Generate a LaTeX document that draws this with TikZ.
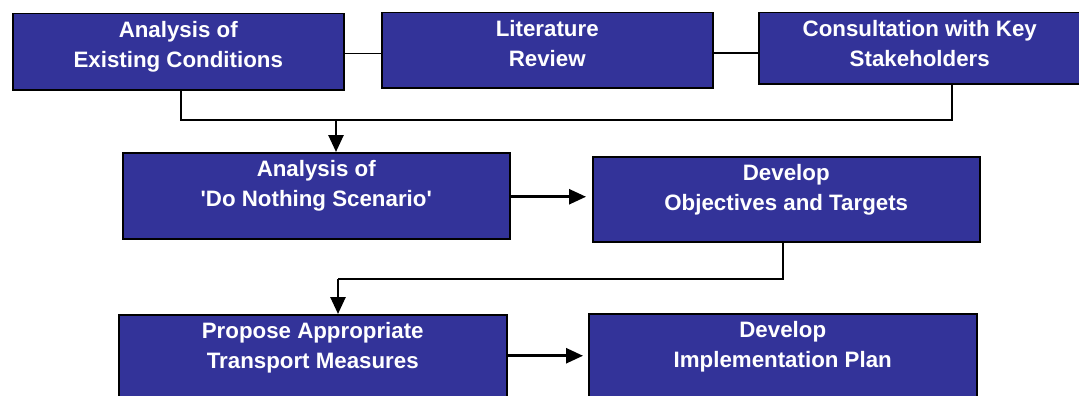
\documentclass[tikz,border=0pt]{standalone}
\usepackage{fontspec}
\newfontfamily\boxfont{Liberation Sans}
\usetikzlibrary{arrows.meta}
\definecolor{boxblue}{RGB}{51,51,153}
\begin{document}
\begin{tikzpicture}[x=1pt,y=-1pt,
  box/.style={draw=black, line width=1.5pt, fill=boxblue, inner sep=0pt, anchor=north west},
  boxtext/.style={anchor=north, yshift=-8.5pt, text=white, inner sep=0pt, align=center,
    font=\boxfont\bfseries\fontsize{22.3}{29.5}\selectfont},
  conn/.style={line width=1.5pt, draw=black},
  arr/.style={line width=2.6pt, draw=black, -{Triangle[length=17pt,width=15pt]}}]
\clip (0,0) rectangle (1079,396);
\useasboundingbox (0,0) rectangle (1079,396);
% boxes
\node[box, minimum width=331pt, minimum height=76pt,
  label={[boxtext]north:{Analysis of\\Existing Conditions}}] (b1) at (12,13) {};
\node[box, minimum width=331pt, minimum height=75pt,
  label={[boxtext]north:{Literature\\Review}}] (b2) at (381,12) {};
\node[box, minimum width=322pt, minimum height=71pt,
  label={[boxtext]north:{Consultation with Key\\Stakeholders}}] (b3) at (758,12) {};
\node[box, minimum width=387pt, minimum height=86pt,
  label={[boxtext]north:{Analysis of\\'Do Nothing Scenario'}}] (b4) at (122,152) {};
\node[box, minimum width=387pt, minimum height=85pt,
  label={[boxtext]north:{Develop\\Objectives and Targets}}] (b5) at (592,156) {};
\node[box, minimum width=388pt, minimum height=86pt,
  label={[boxtext]north:{Propose Appropriate\\Transport Measures}}] (b6) at (118,314) {};
\node[box, minimum width=388pt, minimum height=86pt,
  label={[boxtext]north:{Develop\\Implementation Plan}}] (b7) at (588,313) {};
% junction points
\coordinate (j1) at (336,120);
\coordinate (j2) at (338,279);
% connectors
\draw[conn] ([yshift=-2pt]b1.east) -- ([yshift=-2pt]b1.east -| b2.west);
\draw[conn] ([yshift=-3pt]b2.east) -- ([yshift=-3pt]b2.east -| b3.west);
\draw[conn] ([xshift=2.5pt]b1.south) |- (j1) -| ([xshift=32pt]b3.south);
\draw[arr] (j1) -- (j1 |- b4.north);
\draw[arr, shorten >=6pt] ([yshift=-1pt]b4.east) -- ([yshift=-1pt]b4.east -| b5.west);
\draw[conn] ([xshift=-3.5pt]b5.south) |- (j2);
\draw[arr] (j2) -- (j2 |- b6.north);
\draw[arr, shorten >=5pt] ([yshift=2pt]b6.east) -- ([yshift=2pt]b6.east -| b7.west);
\end{tikzpicture}
\end{document}
